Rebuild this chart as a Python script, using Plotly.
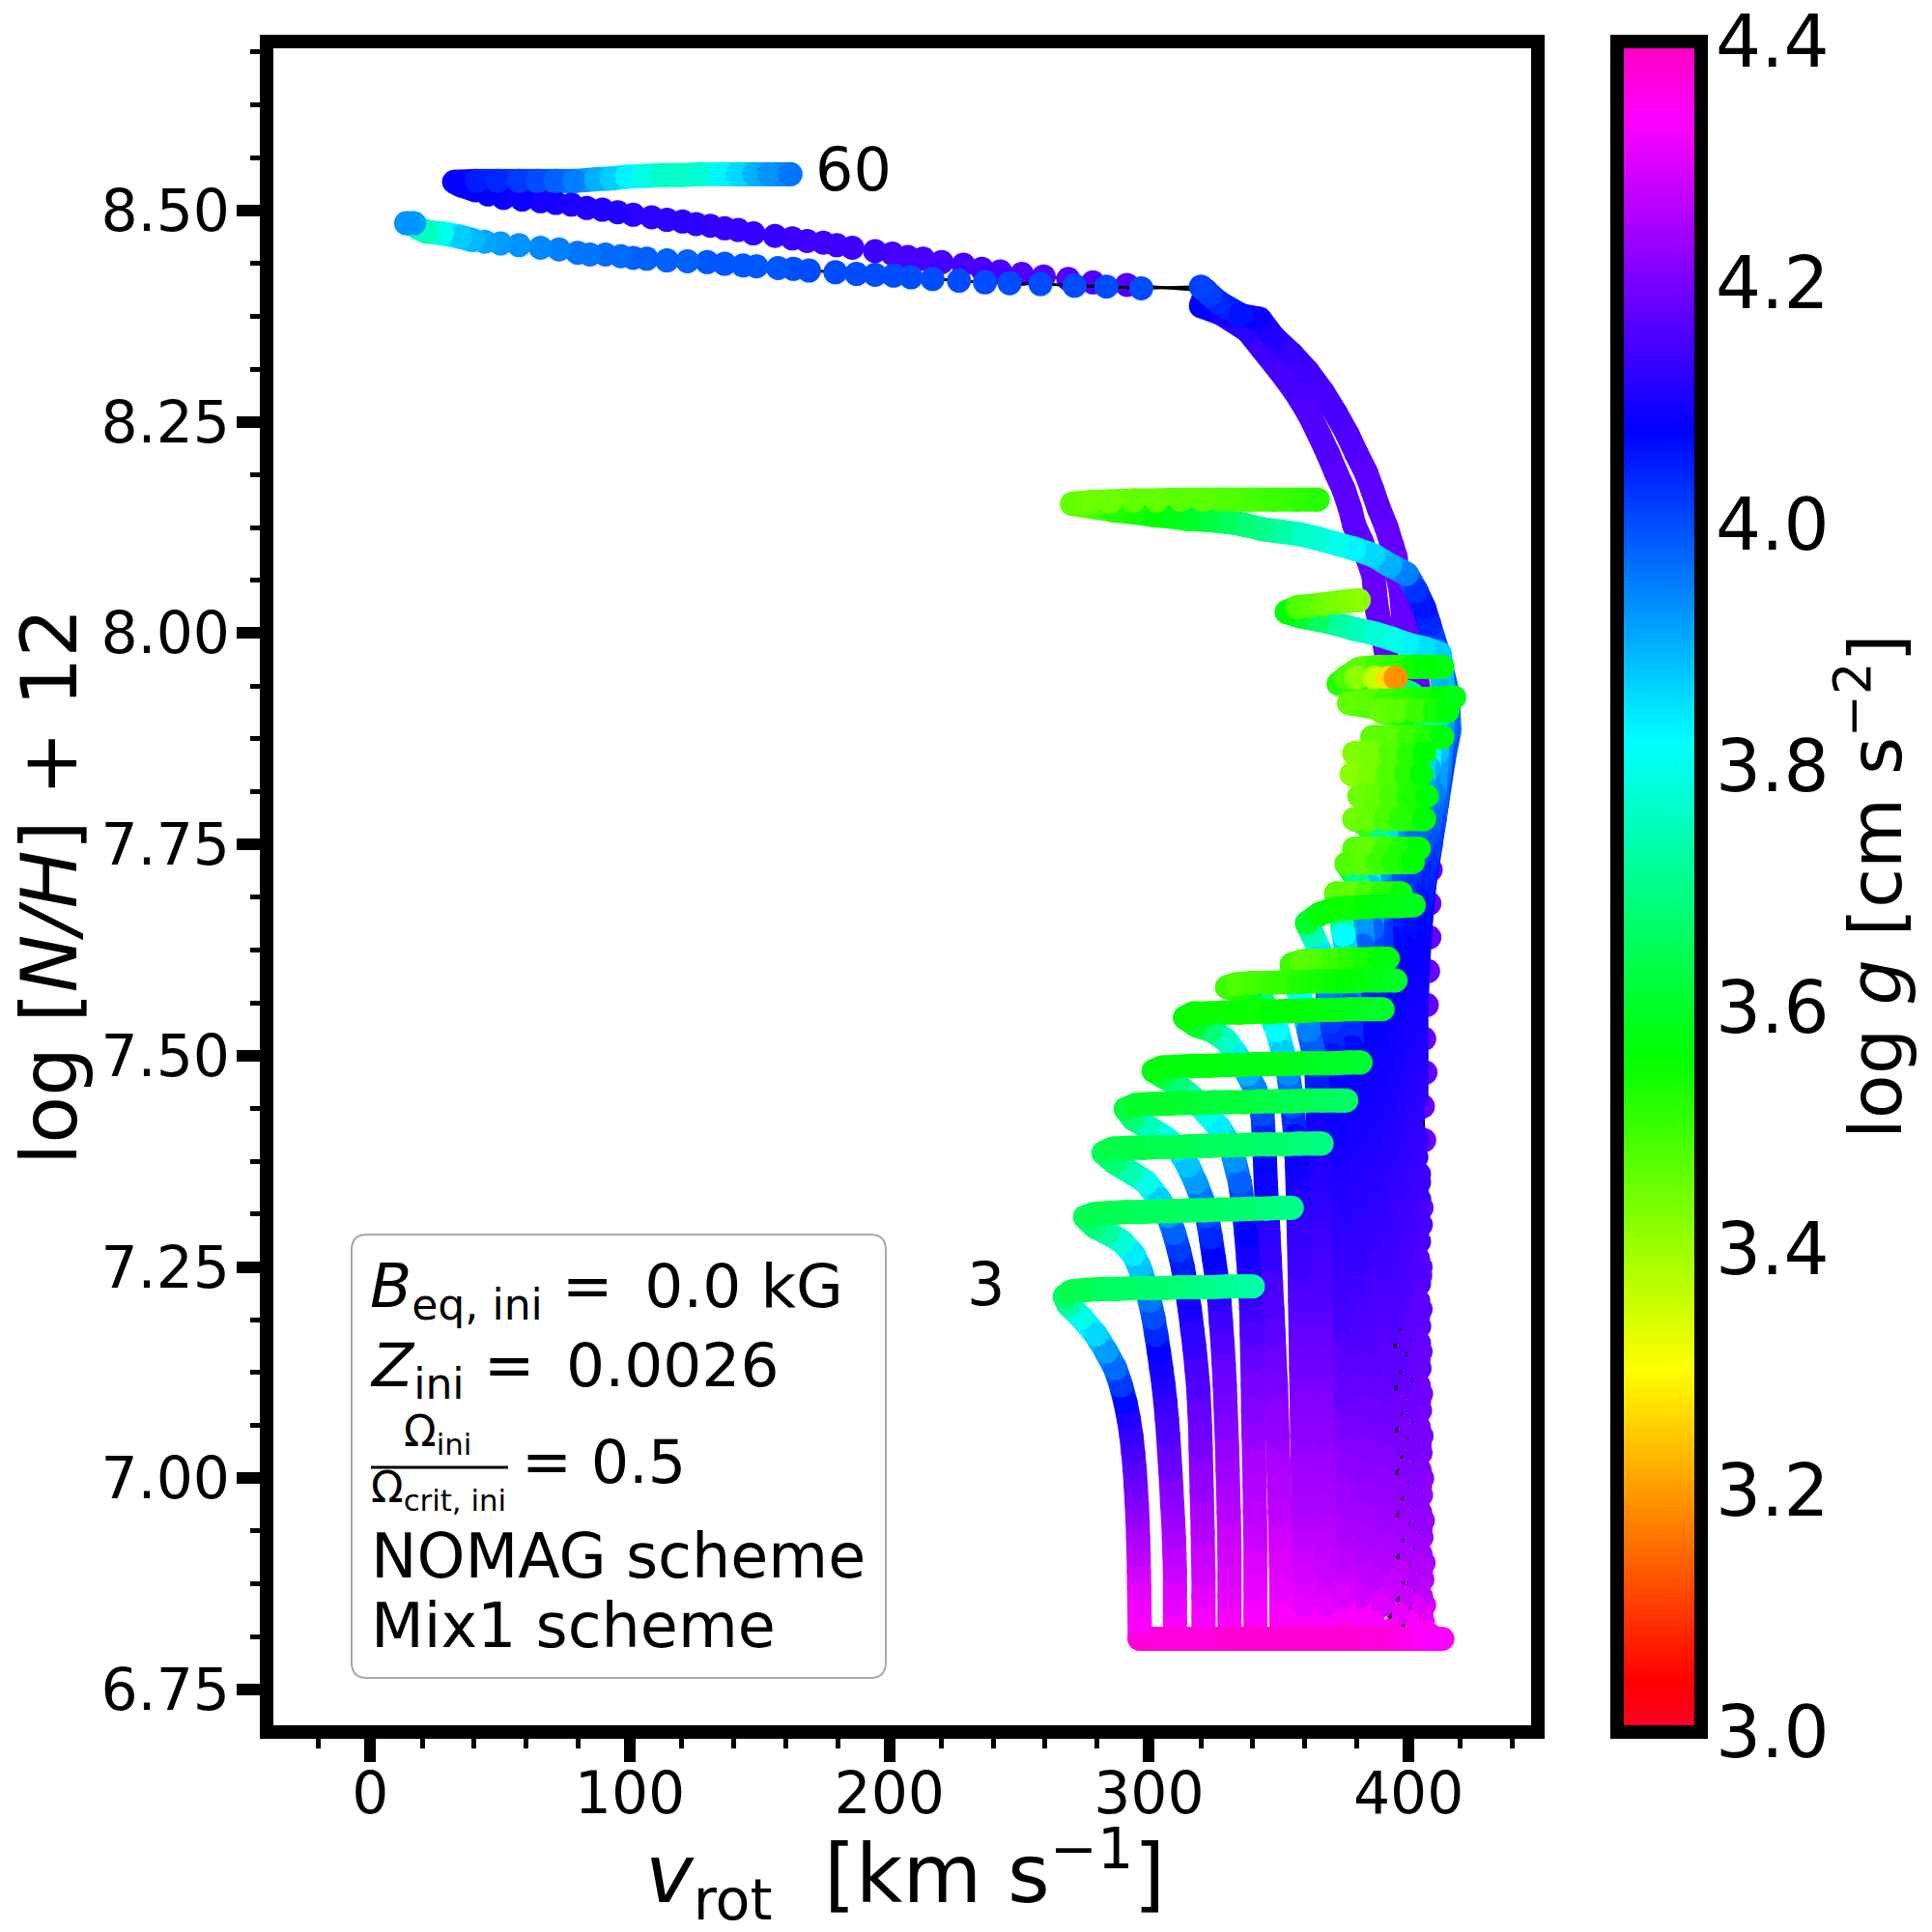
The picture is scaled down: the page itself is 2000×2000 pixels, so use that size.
import plotly.graph_objects as go
from plotly.colors import sample_colorscale

# Each row: rotation velocity [km/s], log[N/H]+12, log g
T01 = [(296.4,6.81,4.37),(296.4,6.83,4.33),(296.3,6.85,4.32),(296.2,6.87,4.31),(296.1,6.89,4.29),(296,6.91,4.27),(295.8,6.93,4.25),(295.6,6.95,4.23),(295.3,6.97,4.21),(294.9,6.99,4.19),(294.5,7.01,4.17),(293.9,7.03,4.15),(293.2,7.05,4.13),(292.2,7.07,4.11),(290.9,7.09,4.07),(289.2,7.11,4.02),(287,7.13,3.97),(283.5,7.15,3.92),(279.5,7.17,3.86),(274,7.19,3.8),(269,7.205,3.72),(267.5,7.215,3.66),(270,7.221,3.64),(276,7.223,3.64),(282,7.224,3.65),(288,7.224,3.66),(294,7.225,3.66),(300,7.225,3.67),(306,7.225,3.67),(312,7.226,3.68),(318,7.226,3.69),(324,7.226,3.7),(330,7.227,3.71),(336,7.227,3.72),(340,7.227,3.73)]
T02 = [(310,6.81,4.37),(310,6.83,4.33),(310,6.85,4.31),(310,6.87,4.3),(310,6.89,4.28),(309.8,6.91,4.27),(309.6,6.93,4.25),(309.3,6.95,4.24),(308.9,6.97,4.22),(308.6,6.99,4.21),(308.2,7.01,4.19),(307.8,7.03,4.18),(307.4,7.05,4.16),(306.9,7.07,4.15),(306.3,7.09,4.13),(305.6,7.11,4.11),(304.7,7.13,4.1),(303.8,7.15,4.08),(302.8,7.17,4.04),(301.7,7.19,4.0),(300.3,7.21,3.96),(298.5,7.23,3.92),(296.3,7.25,3.88),(294,7.265,3.84),(289.6,7.28,3.78),(284,7.29,3.72),(279,7.298,3.68),(275.3,7.309,3.65),(279,7.313,3.64),(285,7.314,3.64),(291,7.315,3.64),(297,7.315,3.65),(303,7.316,3.65),(309,7.316,3.65),(315,7.317,3.66),(321,7.317,3.66),(327,7.318,3.66),(333,7.318,3.67),(339,7.319,3.67),(345,7.319,3.68),(350,7.32,3.69),(355,7.32,3.7)]
T03 = [(321,6.81,4.37),(321,6.835,4.33),(321,6.86,4.31),(321,6.885,4.29),(320.8,6.91,4.28),(320.7,6.935,4.26),(320.5,6.96,4.25),(320.3,6.985,4.23),(320.1,7.01,4.22),(319.9,7.035,4.2),(319.7,7.06,4.19),(319.4,7.08,4.18),(319,7.105,4.16),(318.3,7.13,4.15),(317.5,7.155,4.13),(316.7,7.175,4.12),(315.7,7.2,4.1),(314.4,7.225,4.08),(313,7.25,4.05),(311.5,7.27,4.02),(309.7,7.29,3.98),(307.4,7.31,3.93),(304,7.33,3.87),(299,7.35,3.8),(293,7.362,3.74),(287,7.373,3.68),(282.4,7.385,3.65),(286,7.39,3.63),(292,7.391,3.63),(298,7.391,3.63),(304,7.392,3.64),(310,7.392,3.64),(316,7.393,3.64),(322,7.393,3.65),(328,7.394,3.65),(334,7.394,3.66),(340,7.395,3.66),(346,7.395,3.67),(352,7.395,3.67),(358,7.396,3.68),(364,7.396,3.68),(366.5,7.396,3.69)]
T04 = [(331,6.81,4.37),(331,6.835,4.33),(331,6.86,4.31),(331,6.885,4.3),(331,6.91,4.29),(330.9,6.935,4.28),(330.7,6.96,4.26),(330.5,6.985,4.25),(330.3,7.01,4.24),(330.1,7.035,4.23),(329.8,7.06,4.21),(329.5,7.085,4.2),(329.2,7.11,4.19),(328.8,7.135,4.18),(328.3,7.16,4.16),(327.7,7.185,4.14),(327.1,7.21,4.12),(326.2,7.235,4.1),(325,7.26,4.08),(323.8,7.285,4.04),(322.4,7.31,4.0),(320.5,7.33,3.96),(318,7.35,3.92),(315,7.37,3.88),(311,7.39,3.84),(306.7,7.402,3.81),(300,7.415,3.75),(294,7.425,3.68),(291,7.437,3.62),(295,7.442,3.6),(301,7.443,3.6),(307,7.443,3.6),(313,7.444,3.61),(319,7.444,3.61),(325,7.445,3.62),(331,7.445,3.62),(337,7.445,3.62),(343,7.446,3.63),(349,7.446,3.63),(355,7.446,3.64),(361,7.447,3.64),(367,7.447,3.65),(373,7.447,3.65),(376,7.447,3.66)]
T05 = [(341,6.81,4.37),(341,6.84,4.33),(341,6.87,4.31),(341,6.90,4.3),(341,6.93,4.28),(340.8,6.96,4.27),(340.7,6.99,4.26),(340.5,7.02,4.25),(340.3,7.05,4.23),(340.1,7.08,4.21),(340,7.11,4.2),(339.8,7.14,4.18),(339.6,7.17,4.16),(339.4,7.2,4.14),(338.8,7.23,4.12),(338.2,7.26,4.1),(337.4,7.29,4.08),(336.4,7.32,4.03),(335,7.35,3.98),(333,7.375,3.93),(330.9,7.396,3.88),(327,7.415,3.84),(322.4,7.431,3.8),(317,7.45,3.74),(311,7.466,3.68),(305,7.476,3.62),(301.7,7.482,3.58),(305,7.486,3.57),(311,7.487,3.57),(317,7.488,3.57),(323,7.488,3.57),(329,7.489,3.57),(335,7.489,3.58),(341,7.49,3.58),(347,7.49,3.58),(353,7.49,3.58),(359,7.491,3.59),(365,7.491,3.59),(371,7.491,3.6),(377,7.492,3.6),(381.5,7.492,3.61)]
T06 = [(351,6.81,4.37),(351,6.84,4.33),(351,6.87,4.31),(350.8,6.9,4.3),(350.6,6.93,4.29),(350.4,6.96,4.27),(350.1,6.99,4.26),(349.8,7.02,4.25),(349.5,7.05,4.23),(349.2,7.08,4.22),(348.9,7.11,4.2),(348.4,7.14,4.19),(348,7.17,4.17),(347.5,7.2,4.16),(347,7.23,4.15),(346.5,7.26,4.13),(346,7.29,4.12),(345.5,7.32,4.1),(345,7.35,4.09),(344.6,7.38,4.07),(344.2,7.405,4.04),(343.7,7.431,4.0),(341,7.46,3.95),(338,7.478,3.9),(334,7.5,3.84),(329.5,7.519,3.76),(324,7.53,3.68),(318,7.536,3.6),(313.8,7.545,3.56),(317,7.55,3.55),(323,7.55,3.55),(329,7.551,3.55),(335,7.551,3.55),(341,7.552,3.55),(347,7.552,3.56),(353,7.553,3.56),(359,7.553,3.56),(365,7.554,3.57),(371,7.554,3.57),(377,7.555,3.58),(383,7.555,3.59),(390,7.555,3.6)]
T07 = [(360,6.81,4.37),(360,6.85,4.31),(359.8,6.89,4.29),(359.6,6.93,4.27),(359.4,6.97,4.25),(359.2,7.01,4.24),(359,7.05,4.22),(358.8,7.09,4.21),(358.6,7.13,4.19),(358.4,7.17,4.18),(358.2,7.21,4.16),(358,7.25,4.14),(357.7,7.29,4.13),(357.4,7.33,4.11),(357,7.37,4.09),(356.4,7.405,4.07),(355.2,7.44,4.0),(353.7,7.478,3.94),(351.5,7.505,3.87),(349.4,7.53,3.82),(346.5,7.55,3.75),(343.7,7.565,3.68),(339,7.573,3.6),(335,7.577,3.54),(330,7.581,3.5),(334,7.585,3.48),(340,7.586,3.49),(346,7.586,3.5),(352,7.587,3.51),(358,7.587,3.53),(364,7.588,3.54),(370,7.588,3.55),(376,7.588,3.56),(382,7.589,3.57),(388,7.589,3.58),(395,7.589,3.6)]
T08 = [(368,6.81,4.37),(368,6.85,4.31),(367.8,6.89,4.28),(367.6,6.93,4.27),(367.4,6.97,4.25),(367.2,7.01,4.24),(367,7.05,4.22),(366.8,7.09,4.21),(366.6,7.13,4.19),(366.4,7.17,4.18),(366.2,7.21,4.16),(366,7.25,4.15),(365.8,7.29,4.14),(365.6,7.33,4.12),(365.4,7.37,4.11),(365.2,7.41,4.1),(364.9,7.45,4.08),(364.4,7.489,4.02),(361.5,7.53,3.95),(358,7.571,3.82),(356,7.59,3.68),(355,7.608,3.5),(359,7.612,3.47),(365,7.612,3.48),(371,7.613,3.5),(377,7.614,3.52),(383,7.614,3.54),(389,7.615,3.56),(392,7.615,3.57)]
T09 = [(375,6.82,4.36),(375,6.86,4.3),(374.8,6.9,4.27),(374.6,6.94,4.25),(374.4,6.98,4.24),(374.2,7.02,4.22),(374,7.06,4.2),(373.8,7.1,4.18),(373.6,7.14,4.17),(373.4,7.18,4.15),(373.2,7.22,4.14),(373,7.26,4.13),(372.7,7.3,4.12),(372.4,7.34,4.11),(372.1,7.38,4.1),(371.8,7.42,4.09),(371.4,7.46,4.08),(371,7.5,4.06),(370,7.54,4.02),(368.5,7.58,3.95),(366.5,7.62,3.85),(363,7.643,3.74),(360.8,7.657,3.6),(366,7.668,3.56),(372,7.674,3.55),(378,7.675,3.55),(384,7.676,3.56),(390,7.677,3.57),(396,7.677,3.58),(402,7.678,3.59)]
T10 = [(381,6.81,4.37),(381,6.86,4.29),(380.8,6.91,4.26),(380.6,6.96,4.24),(380.4,7.01,4.22),(380.2,7.06,4.2),(380,7.11,4.18),(379.8,7.16,4.16),(379.6,7.21,4.15),(379.4,7.26,4.13),(379.2,7.31,4.12),(379,7.36,4.11),(378.8,7.41,4.1),(378.5,7.46,4.09),(378.2,7.51,4.07),(377.5,7.56,4.0),(376.5,7.61,3.9),(375,7.643,3.82),(373,7.68,3.62),(372,7.692,3.47),(378,7.692,3.46),(384,7.692,3.49),(390,7.692,3.52),(397,7.692,3.55)]
T11 = [(386,6.83,4.33),(386,6.88,4.27),(385.8,6.93,4.25),(385.6,6.98,4.23),(385.4,7.03,4.21),(385.2,7.08,4.19),(385,7.13,4.17),(384.8,7.18,4.16),(384.6,7.23,4.15),(384.4,7.28,4.13),(384.2,7.33,4.12),(384,7.38,4.11),(383.8,7.43,4.1),(383.5,7.48,4.09),(383.2,7.53,4.08),(382.8,7.58,4.05),(382.3,7.63,3.98),(381.6,7.68,3.87),(380,7.71,3.7),(376,7.727,3.48),(382,7.728,3.47),(388,7.728,3.5),(394,7.729,3.53),(401.6,7.729,3.56)]
T12 = [(390,6.85,4.3),(390,6.9,4.26),(389.8,6.95,4.24),(389.6,7.0,4.22),(389.4,7.05,4.2),(389.2,7.1,4.18),(389,7.15,4.17),(388.8,7.2,4.16),(388.6,7.25,4.14),(388.4,7.3,4.13),(388.2,7.35,4.12),(388,7.4,4.11),(387.7,7.45,4.1),(387.4,7.5,4.09),(387,7.55,4.08),(386.5,7.6,4.04),(386,7.65,3.98),(385.4,7.7,3.88),(383,7.73,3.7),(379,7.745,3.47),(385,7.745,3.46),(391,7.745,3.5),(397,7.745,3.53),(404,7.745,3.56)]
T13 = [(393,6.82,4.35),(393,6.87,4.28),(392.8,6.92,4.25),(392.6,6.97,4.23),(392.4,7.02,4.21),(392.2,7.07,4.19),(392,7.12,4.17),(391.8,7.17,4.16),(391.6,7.22,4.15),(391.4,7.27,4.14),(391.2,7.32,4.13),(391,7.37,4.12),(390.8,7.42,4.11),(390.5,7.47,4.1),(390.2,7.52,4.09),(389.9,7.57,4.08),(389.6,7.62,4.05),(389.3,7.67,4.0),(389,7.72,3.92),(388,7.76,3.7),(383,7.775,3.5),(379,7.78,3.45),(385,7.78,3.46),(391,7.78,3.49),(397,7.78,3.52),(406,7.78,3.56)]
T14 = [(396,6.84,4.31),(396,6.89,4.27),(395.8,6.94,4.24),(395.6,6.99,4.22),(395.4,7.04,4.2),(395.2,7.09,4.19),(395,7.14,4.17),(394.8,7.19,4.16),(394.6,7.24,4.15),(394.4,7.29,4.14),(394.2,7.34,4.13),(394,7.39,4.12),(393.8,7.44,4.11),(393.5,7.49,4.1),(393.2,7.54,4.09),(392.9,7.59,4.08),(392.6,7.64,4.07),(392.2,7.69,4.03),(391.8,7.74,3.96),(391,7.78,3.75),(386,7.8,3.5),(381,7.807,3.45),(387,7.807,3.46),(393,7.807,3.49),(400,7.807,3.53),(407,7.807,3.56)]
T15 = [(398,6.81,4.37),(398,6.86,4.28),(397.8,6.91,4.25),(397.6,6.96,4.23),(397.4,7.01,4.21),(397.2,7.06,4.2),(397,7.11,4.18),(396.8,7.16,4.17),(396.6,7.21,4.16),(396.4,7.26,4.15),(396.2,7.31,4.14),(396,7.36,4.13),(395.8,7.41,4.12),(395.6,7.46,4.11),(395.4,7.51,4.1),(395.2,7.56,4.09),(395,7.61,4.08),(394.7,7.66,4.06),(394.4,7.71,4.01),(394,7.76,3.93),(393.5,7.8,3.75),(386,7.825,3.5),(378,7.833,3.42),(385,7.833,3.44),(392,7.833,3.48),(399,7.833,3.52),(405,7.833,3.56)]
T16 = [(400,6.83,4.33),(400,6.88,4.26),(399.8,6.93,4.24),(399.6,6.98,4.22),(399.4,7.03,4.2),(399.2,7.08,4.19),(399,7.13,4.18),(398.9,7.18,4.17),(398.8,7.23,4.16),(398.7,7.28,4.15),(398.6,7.33,4.14),(398.5,7.38,4.13),(398.4,7.43,4.12),(398.3,7.48,4.11),(398.3,7.53,4.1),(398.3,7.58,4.09),(398.4,7.63,4.08),(398.5,7.68,4.05),(398.6,7.73,4.0),(398.8,7.78,3.94),(398,7.83,3.8),(388,7.85,3.55),(379,7.858,3.43),(386,7.858,3.44),(393,7.858,3.48),(400,7.858,3.52),(406,7.858,3.56)]
T17 = [(402,6.85,4.3),(401.8,6.9,4.26),(401.6,6.95,4.23),(401.4,7.0,4.21),(401.2,7.05,4.2),(401,7.1,4.19),(400.8,7.15,4.18),(400.7,7.2,4.17),(400.6,7.25,4.16),(400.5,7.3,4.15),(400.4,7.35,4.14),(400.3,7.4,4.13),(400,7.45,4.12),(399,7.5,4.11),(398.6,7.55,4.1),(398.6,7.6,4.09),(399,7.65,4.08),(400,7.7,4.05),(402,7.75,4.0),(402.5,7.8,3.94),(403,7.85,3.82),(394,7.872,3.55),(386,7.877,3.47),(393,7.877,3.47),(400,7.877,3.5),(407,7.877,3.53),(413,7.877,3.56)]
T18 = [(404,6.82,4.35),(403.8,6.87,4.27),(403.6,6.92,4.24),(403.4,6.97,4.22),(403.2,7.02,4.21),(403,7.07,4.2),(402.8,7.12,4.19),(402.6,7.17,4.18),(402.4,7.22,4.17),(402.2,7.27,4.16),(402.1,7.32,4.15),(402,7.37,4.14),(400,7.42,4.13),(399,7.47,4.12),(398.5,7.52,4.11),(398.5,7.57,4.1),(399,7.62,4.09),(400,7.67,4.07),(401.5,7.72,4.04),(405,7.77,3.98),(405.6,7.82,3.92),(406,7.87,3.8),(398,7.9,3.55),(389,7.908,3.46),(396,7.908,3.47),(403,7.908,3.5),(410,7.908,3.54),(415,7.908,3.57)]
T19 = [(405,6.84,4.31),(404.8,6.89,4.26),(404.6,6.94,4.23),(404.4,6.99,4.22),(404.2,7.04,4.2),(404,7.09,4.19),(403.8,7.14,4.18),(403.6,7.19,4.17),(403.4,7.24,4.16),(403.2,7.29,4.15),(403.1,7.34,4.14),(401,7.39,4.13),(400,7.44,4.12),(399.5,7.49,4.11),(399.5,7.54,4.1),(400,7.59,4.09),(401,7.64,4.08),(402.5,7.69,4.06),(405,7.74,4.02),(407.2,7.79,3.97),(407.8,7.84,3.9),(408,7.89,3.75),(396,7.91,3.55),(385,7.913,3.48),(377,7.917,3.46),(384,7.919,3.47),(391,7.92,3.5),(398,7.921,3.52),(405,7.922,3.54),(412,7.923,3.56),(417.6,7.924,3.58)]
T20 = [(405,6.81,4.37),(404.8,6.86,4.27),(404.6,6.91,4.24),(404.4,6.96,4.22),(404.2,7.01,4.21),(404,7.06,4.2),(403.9,7.11,4.19),(403.8,7.16,4.18),(403.7,7.21,4.17),(403.6,7.26,4.16),(403.6,7.31,4.15),(403.7,7.36,4.14),(402,7.41,4.13),(401,7.46,4.12),(400.5,7.51,4.11),(400.5,7.56,4.1),(401,7.61,4.09),(402,7.66,4.08),(404,7.71,4.05),(407,7.76,4.0),(410,7.81,3.95),(411,7.86,3.88),(410,7.91,3.8),(400,7.93,3.68),(390,7.935,3.58),(380,7.94,3.53),(373,7.94,3.52),(376,7.948,3.48),(381,7.958,3.47),(388,7.96,3.5),(395,7.96,3.52),(402,7.96,3.55),(408,7.96,3.56),(413,7.96,3.57),(380,7.947,3.42),(387,7.947,3.36),(392,7.947,3.27),(395,7.947,3.19)]
T21 = [(405.5,6.83,4.33),(405.3,6.88,4.26),(405,6.93,4.24),(404.8,6.98,4.22),(404.6,7.03,4.2),(404.4,7.08,4.19),(404.2,7.13,4.18),(404.1,7.18,4.17),(404,7.23,4.16),(404,7.28,4.15),(404.1,7.33,4.14),(403,7.38,4.13),(402,7.43,4.12),(401.5,7.48,4.11),(401.5,7.53,4.1),(402,7.58,4.09),(403,7.63,4.08),(404.5,7.68,4.06),(407,7.73,4.03),(410,7.78,4.0),(411.8,7.83,3.97),(413,7.88,3.92),(413.5,7.93,3.9),(412,7.976,3.87),(406,7.982,3.85),(399.3,7.987,3.83),(393,7.994,3.8),(386.5,8.0,3.78),(379,8.005,3.75),(372,8.011,3.72),(365,8.016,3.66),(358,8.02,3.6),(353,8.025,3.56),(357.3,8.031,3.48),(362,8.032,3.47),(367,8.034,3.45),(372,8.036,3.44),(377,8.038,3.43),(380.8,8.039,3.42)]
T22 = [(406,6.85,4.3),(405.8,6.9,4.25),(405.5,6.95,4.23),(405.2,7.0,4.21),(405,7.05,4.2),(404.8,7.1,4.19),(404.6,7.15,4.18),(404.6,7.2,4.17),(404.6,7.25,4.16),(404.7,7.3,4.15),(404,7.35,4.14),(403.5,7.4,4.13),(403,7.45,4.12),(403,7.5,4.11),(403,7.55,4.1),(403.5,7.6,4.09),(404.5,7.65,4.08),(406,7.7,4.07),(408.5,7.75,4.05),(411,7.8,4.03),(413.5,7.85,4.01),(415.7,7.885,3.98),(415,7.93,3.97),(411,7.98,4.0),(408,8.01,4.04),(406,8.03,4.06),(403,8.05,4.03),(399.3,8.07,3.95),(393,8.08,3.9),(386.5,8.092,3.86),(379,8.1,3.83),(372,8.106,3.8),(365,8.112,3.78),(358,8.117,3.76),(351,8.12,3.73),(343.7,8.123,3.7),(337,8.128,3.68),(329.5,8.132,3.65),(322,8.134,3.62),(315,8.135,3.6),(308,8.138,3.58),(301,8.14,3.56),(294,8.143,3.54),(286.7,8.145,3.52),(279,8.149,3.49),(270.3,8.153,3.46),(277,8.155,3.45),(285,8.156,3.45),(294,8.157,3.46),(303,8.157,3.46),(312,8.158,3.47),(321,8.158,3.47),(330,8.158,3.48),(339,8.158,3.49),(348,8.158,3.5),(357,8.158,3.51),(365,8.158,3.52)]
T23 = [(408,6.815,4.33),(403,6.84,4.28),(401.5,6.88,4.26),(402,6.92,4.25),(400,6.96,4.24),(403,7.0,4.23),(401,7.04,4.22),(403.5,7.08,4.22),(402,7.12,4.21),(404,7.16,4.21),(402.5,7.2,4.2),(404.5,7.24,4.2),(403,7.28,4.2),(405,7.32,4.19),(404,7.36,4.19),(406,7.4,4.19),(405.5,7.44,4.18),(406.5,7.48,4.18),(406,7.52,4.18),(407,7.56,4.18),(407.5,7.6,4.18),(408,7.64,4.18),(408,7.68,4.18),(408.5,7.72,4.18),(408,7.76,4.18),(407.5,7.8,4.18),(407,7.84,4.18),(406,7.88,4.18),(404.5,7.92,4.18),(402.5,7.96,4.18),(400,8.0,4.18),(398,8.016,4.18),(397,8.05,4.18),(395.8,8.068,4.18),(395,8.09,4.18),(393.6,8.104,4.18),(391.5,8.125,4.18),(388.6,8.147,4.17),(386,8.17,4.17),(383.6,8.19,4.17),(380,8.212,4.16),(376.5,8.235,4.16),(372,8.26,4.15),(367,8.285,4.15),(361,8.31,4.14),(355,8.33,4.13),(348,8.35,4.11),(342.6,8.372,4.09),(335.5,8.376,4.06),(327,8.391,4.04),(323.6,8.4,4.02),(320,8.41,4.01),
 (297,8.408,4.0),(283.6,8.41,4.0),(271.3,8.411,4.0),(258.2,8.413,4.0),(246.3,8.414,4.0),(236.8,8.415,4.0),(226.8,8.417,4.0),(216.6,8.419,4.0),(208.3,8.421,4.0),(201.6,8.423,4.0),(194.5,8.424,4.0),(187.3,8.425,4.0),(179.2,8.427,4.0),(169,8.429,4.0),(163,8.431,4.0),(157.1,8.432,3.99),(148.8,8.434,3.99),(143.6,8.435,3.99),(136.5,8.437,3.99),(129.8,8.439,3.99),(122.2,8.44,3.98),(114.3,8.441,3.98),(106.5,8.443,3.98),(101.3,8.444,3.98),(96.5,8.446,3.97),(90.6,8.448,3.97),(84.6,8.448,3.96),(79.9,8.45,3.96),(72.7,8.454,3.95),(65.6,8.456,3.94),(57.3,8.459,3.93),(50.2,8.461,3.92),(44.2,8.463,3.91),(39.5,8.465,3.89),(34.7,8.469,3.87),(27.6,8.473,3.8),(21.6,8.475,3.75),(18,8.48,3.76),(16.9,8.485,3.92),(13.8,8.485,3.93)]
T24 = [(400,6.83,4.3),(398,6.87,4.27),(398,6.91,4.25),(398.5,6.95,4.24),(398.5,6.99,4.23),(399,7.03,4.22),(399,7.07,4.21),(399.5,7.11,4.21),(399.5,7.15,4.2),(400,7.19,4.2),(400,7.23,4.19),(400.5,7.27,4.19),(400.5,7.31,4.18),(401,7.35,4.18),(401,7.39,4.18),(401.5,7.43,4.18),(402,7.47,4.18),(402.5,7.51,4.18),(403,7.55,4.18),(403.5,7.59,4.18),(404,7.63,4.18),(404,7.67,4.18),(403.5,7.71,4.18),(403,7.75,4.18),(402,7.79,4.18),(400.5,7.83,4.18),(398.5,7.87,4.18),(396,7.91,4.18),(393,7.95,4.18),(390.5,7.99,4.18),(388,8.025,4.18),(387,8.05,4.18),(386.5,8.068,4.18),(384,8.09,4.18),(382,8.108,4.18),(379,8.128,4.17),(377.5,8.147,4.17),(375,8.17,4.17),(372,8.19,4.17),(369,8.212,4.16),(365.5,8.235,4.16),(361.5,8.26,4.16),(356.5,8.285,4.15),(350.5,8.31,4.15),(344,8.335,4.14),(338,8.358,4.12),(328,8.378,4.1),(320,8.387,4.08),(322,8.405,4.06),
 (291.5,8.412,4.16),(278.4,8.415,4.16),(268.9,8.419,4.16),(259.4,8.422,4.16),(251,8.425,4.16),(242.7,8.428,4.15),(235.6,8.431,4.15),(228.5,8.436,4.15),(220.1,8.439,4.15),(213,8.443,4.15),(207.1,8.445,4.15),(201.1,8.449,4.15),(194.5,8.452,4.14),(185.7,8.456,4.14),(179.7,8.459,4.14),(174.5,8.462,4.14),(168.3,8.464,4.14),(162.6,8.467,4.14),(155.9,8.47,4.13),(147.6,8.473,4.13),(141.7,8.477,4.13),(136.5,8.479,4.13),(131,8.482,4.13),(125.5,8.484,4.12),(120.3,8.487,4.12),(114.3,8.489,4.12),(108.4,8.492,4.12),(101.3,8.495,4.12),(95.3,8.498,4.11),(89.4,8.501,4.11),(83.4,8.503,4.11),(77.5,8.507,4.11),(71.5,8.509,4.1),(65.6,8.511,4.1),(58.5,8.513,4.09),(51.3,8.515,4.09),(45.4,8.519,4.08),(40.6,8.524,4.08),(34.7,8.53,4.08),(32.3,8.534,4.08),(41,8.535,4.05),(49,8.535,4.04),(57.3,8.535,4.02),(64.4,8.535,4.0),(71.5,8.535,3.98),(78.7,8.535,3.95),(87,8.537,3.9),(93,8.538,3.87),(98.9,8.54,3.83),(106,8.541,3.79),(113.2,8.542,3.76),(120,8.542,3.76),(127.4,8.543,3.78),(135,8.543,3.83),(141.7,8.543,3.86),(148,8.543,3.9),(153.6,8.543,3.93),(161.9,8.543,3.96)]
ZAMS = [(296.4,6.81,4.36),(303,6.81,4.37),(310,6.81,4.37),(316,6.81,4.37),(321,6.81,4.37),(331,6.81,4.38),(341,6.81,4.38),(351,6.81,4.38),(360,6.81,4.38),(368,6.81,4.38),(375,6.81,4.38),(381,6.81,4.38),(386,6.81,4.37),(390,6.81,4.37),(396,6.81,4.36),(401,6.81,4.35),(405,6.81,4.34),(409,6.81,4.33),(413,6.81,4.33)]
TRACKS = [T01,T02,T03,T04,T05,T06,T07,T08,T09,T10,T11,T12,T13,T14,T15,T16,T17,T18,T19,T20,T21,T22,T23,T24]
# lowest log[N/H] at which each track reads as a continuous band rather than separate dots
SOLID_FROM = [0,0,0,0,0,0,0,0,0,0,0,0,7.15,7.15,7.2,7.2,7.3,7.45,7.45,7.45,7.45,7.45,7.75,7.75]

MASS_LABELS = [("3", 237, 7.23), ("60", 186, 8.548)]
Y_TICKS = [6.75, 7.0, 7.25, 7.5, 7.75, 8.0, 8.25, 8.5]
X_TICKS = [0, 100, 200, 300, 400]
CBAR_TICKS = [3.0, 3.2, 3.4, 3.6, 3.8, 4.0, 4.2, 4.4]

FONT = "DejaVu Sans"
L, R, T, B = 283, 1585, 50, 1786
SIZE = 25
CMIN, CMAX = 3.0, 4.4
def px(x): return (x - L) / (R - L)
def py(y): return (B - y) / (B - T)

# matplotlib gist_rainbow
GIST = [[0, "rgb(255,0,41)"], [0.03, "rgb(255,0,0)"], [0.215, "rgb(255,255,0)"], [0.4, "rgb(0,255,0)"],
        [0.586, "rgb(0,255,255)"], [0.77, "rgb(0,0,255)"], [0.954, "rgb(255,0,255)"], [1, "rgb(255,0,191)"]]

fig = go.Figure()

def draw(track, solid_from, dotted_arm=False):
    v, y, g = zip(*track)
    fig.add_trace(go.Scatter(x=v, y=y, mode="lines", showlegend=False, hoverinfo="skip",
                             line=dict(color="black", width=3)))
    for i in range(len(v) - 1):
        if min(y[i], y[i + 1]) < solid_from or abs(v[i] - v[i + 1]) > 20:
            continue
        if dotted_arm and max(v[i], v[i + 1]) < 320 and min(v[i], v[i + 1]) > 36 and y[i] < 8.53:
            continue
        c = sample_colorscale(GIST, [((g[i] + g[i + 1]) / 2 - CMIN) / (CMAX - CMIN)], colortype="rgb")[0]
        fig.add_trace(go.Scatter(x=v[i:i + 2], y=y[i:i + 2], mode="lines", showlegend=False, hoverinfo="skip",
                                 line=dict(color=c, width=SIZE)))
    fig.add_trace(go.Scatter(x=v, y=y, mode="markers", showlegend=False, hoverinfo="skip",
                             marker=dict(size=SIZE, color=g, coloraxis="coloraxis", line=dict(width=0))))

for k in range(len(TRACKS) - 1, 0, -1):
    draw(TRACKS[k], SOLID_FROM[k], dotted_arm=k >= 22)
draw(ZAMS, 0)
draw(TRACKS[0], 0)

def text(t, x, y, size=62, xa="left", ya="middle", angle=0):
    fig.add_annotation(text=t, x=px(x), y=py(y), xref="paper", yref="paper", showarrow=False,
                       xanchor=xa, yanchor=ya, textangle=angle, align="left",
                       font=dict(family=FONT, size=size, color="black"))

for t, vx, vy in MASS_LABELS:
    fig.add_annotation(text=t, x=vx, y=vy, xref="x", yref="y", showarrow=False,
                       font=dict(family=FONT, size=62, color="black"))

for val in CBAR_TICKS:
    text(f"{val:.1f}", 1774, 1793 - (val - CMIN) / (CMAX - CMIN) * 1750, size=74)

text("<i>B</i><sub>eq, ini</sub> =\u00a0\u20090.0 kG", 381, 1335, size=63)
text("<i>Z</i><sub>ini</sub> =\u00a0\u20090.0026", 381, 1417, size=63)
text("\u03a9<sub>ini</sub>", 416, 1484, size=44)
text("\u03a9<sub>crit, ini</sub>", 382, 1542, size=44)
text("= 0.5", 538, 1513)
text("NOMAG scheme", 382, 1611, size=63.5)
text("Mix1 scheme", 382, 1683, size=63.5)
text("log [<i>N/H</i>] + 12", 51, 918, size=80, xa="center", angle=-90)
text("<i>v</i><sub>rot</sub>\u00a0\u00a0[km s<sup>\u22121</sup>]", 937, 1940, size=84, xa="center")
text("log <i>g</i> [cm s<sup>\u22122</sup>]", 1936, 918, size=75, xa="center", angle=-90)

bx0, bx1, by0, by1, rr = 364, 917, 1278, 1737, 16
def P(x, y): return f"{px(x):.5f},{py(y):.5f}"
path = (f"M{P(bx0+rr,by0)} L{P(bx1-rr,by0)} Q{P(bx1,by0)} {P(bx1,by0+rr)} L{P(bx1,by1-rr)} Q{P(bx1,by1)} {P(bx1-rr,by1)} "
        f"L{P(bx0+rr,by1)} Q{P(bx0,by1)} {P(bx0,by1-rr)} L{P(bx0,by0+rr)} Q{P(bx0,by0)} {P(bx0+rr,by0)} Z")
fig.add_shape(type="path", path=path, xref="paper", yref="paper", line=dict(color="#a8a8a8", width=2), fillcolor="white", layer="below")
fig.add_shape(type="line", xref="paper", yref="paper", x0=px(384), x1=px(526), y0=py(1519), y1=py(1519), line=dict(color="black", width=3))

axis = dict(showline=True, linecolor="black", linewidth=14, mirror=True, showgrid=False, zeroline=False,
            ticks="outside", ticklen=24, tickwidth=12, tickcolor="black",
            tickfont=dict(family=FONT, size=60, color="black"))
fig.update_layout(
    width=2000, height=2000, margin=dict(l=L, r=2000 - R, t=T, b=2000 - B, autoexpand=False),
    plot_bgcolor="white", paper_bgcolor="white", showlegend=False,
    xaxis=dict(axis, range=[-37.33, 447.2], tickvals=X_TICKS, ticktext=[str(i) for i in X_TICKS], ticklabelstandoff=-19,
               minor=dict(ticks="outside", ticklen=10, tickwidth=5, tickcolor="black", dtick=20, tick0=0)),
    yaxis=dict(axis, range=[6.7077, 8.692], tickvals=Y_TICKS, tickformat=".2f", ticklabelstandoff=-5,
               minor=dict(ticks="outside", ticklen=10, tickwidth=5, tickcolor="black", dtick=0.0625, tick0=6.75)),
    coloraxis=dict(cmin=CMIN, cmax=CMAX, colorscale=GIST,
                   colorbar=dict(x=(1674 - L) / (R - L), xanchor="left", y=0.5, yanchor="middle",
                                 lenmode="pixels", len=1750, thicknessmode="pixels", thickness=87, xpad=0, ypad=0,
                                 outlinewidth=14, outlinecolor="black", ticks="", showticklabels=False)),
)
fig.write_html("out.html", post_script="document.body.style.margin='0';", config={"displayModeBar": False})
